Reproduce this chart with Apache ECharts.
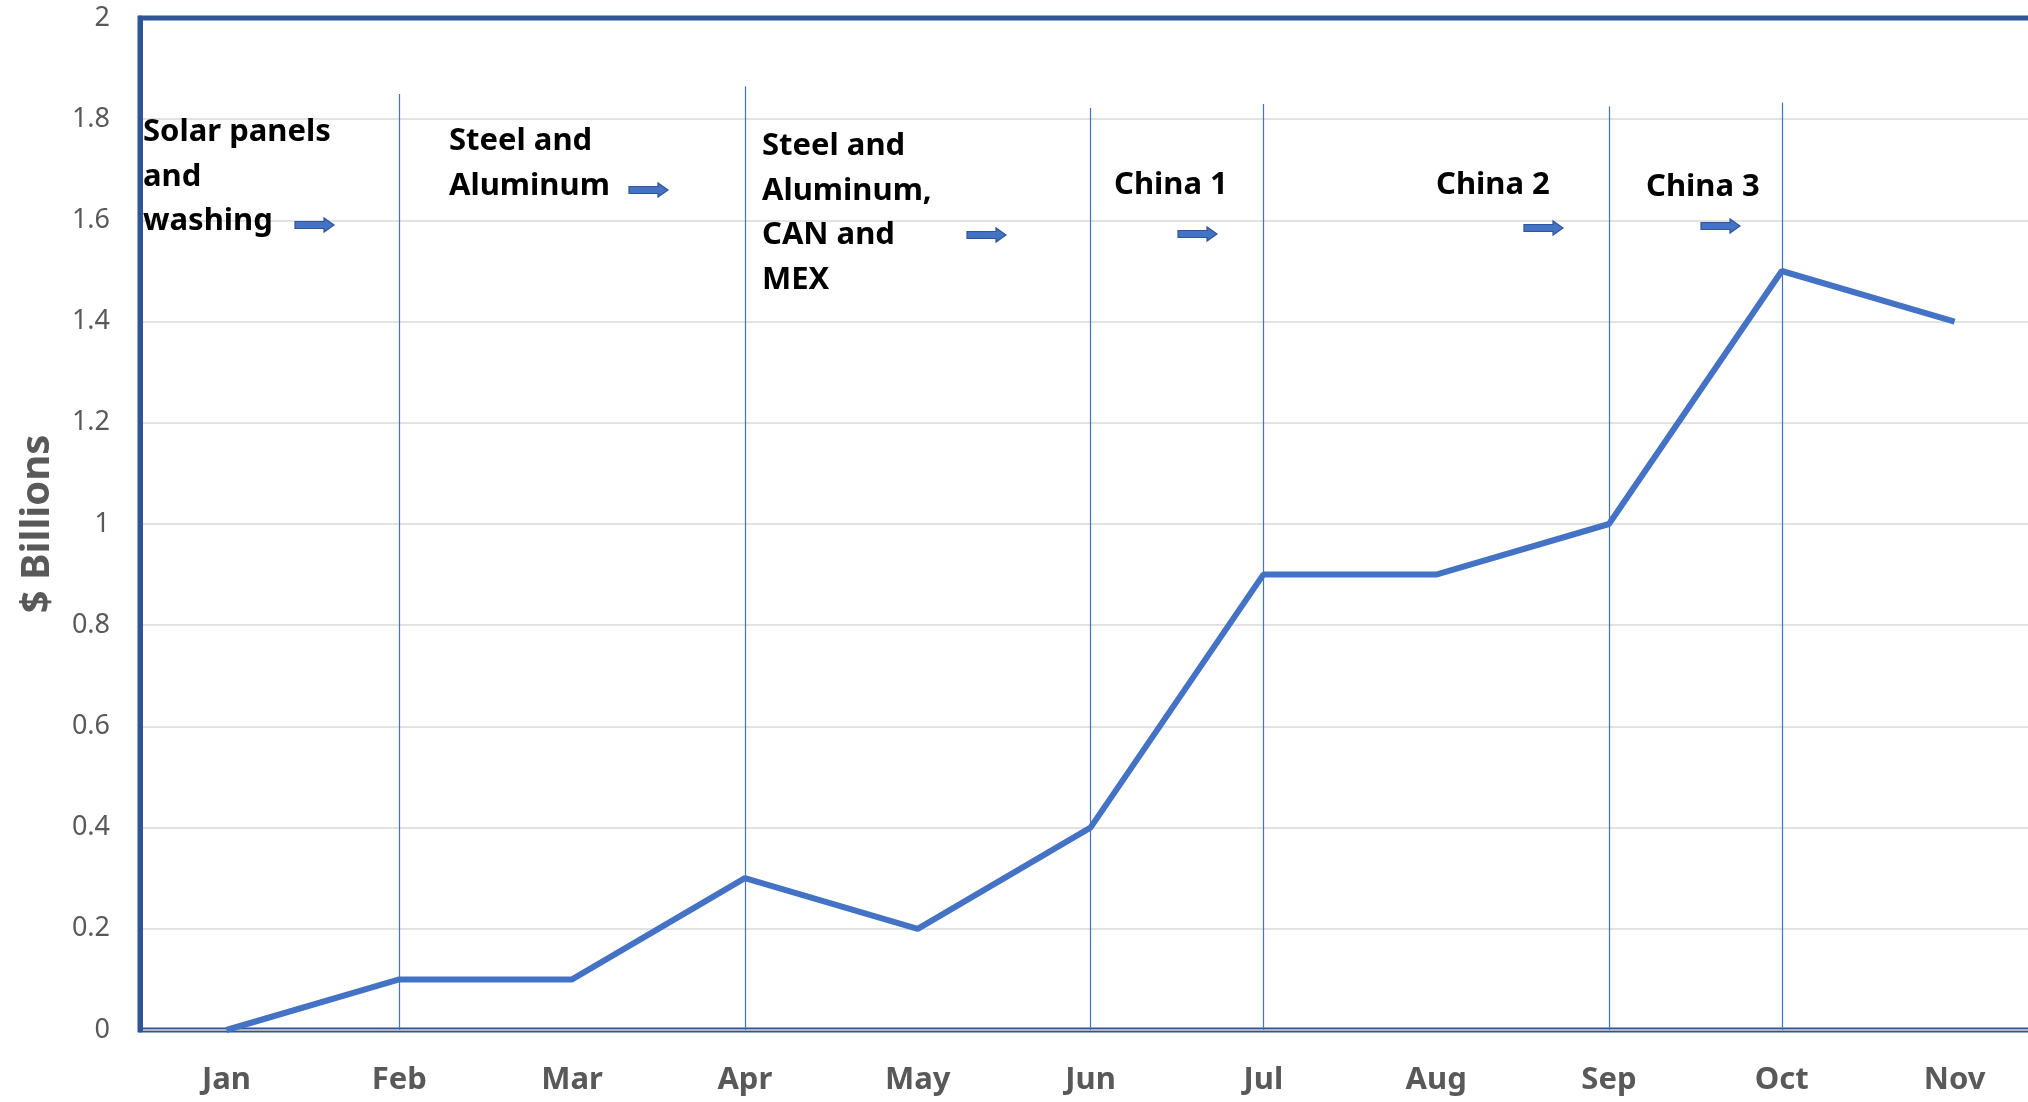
<!DOCTYPE html>
<html>
<head>
<meta charset="utf-8">
<script src="https://cdn.jsdelivr.net/npm/echarts@6/dist/echarts.min.js"></script>
<style>
html,body{margin:0;padding:0;background:#fff;}
#c{width:2028px;height:1102px;}
</style>
</head>
<body>
<div id="c"></div>
<script>
var months = ['Jan','Feb','Mar','Apr','May','Jun','Jul','Aug','Sep','Oct','Nov'];
var values = [0, 0.1, 0.1, 0.3, 0.2, 0.4, 0.9, 0.9, 1.0, 1.5, 1.4];
var yTicks = {min: 0, max: 2, interval: 0.2};
var markerMonths = ['Feb','Apr','Jun','Jul','Sep','Oct'];
var markerTops = [1.85, 1.865, 1.822, 1.83, 1.825, 1.833];
var annotations = [
  'Solar panels\nand\nwashing',
  'Steel and\nAluminum',
  'Steel and\nAluminum,\nCAN and\nMEX',
  'China 1',
  'China 2',
  'China 3'
];

var chart = echarts.init(document.getElementById('c'));

var FONT = '"Noto Sans"';
var textPos = [[143,110],[449,119],[762,124],[1114,163],[1436,163],[1646,165]];
var arrowPos = [[295,225],[629,190],[967,235],[1178,234],[1524,228],[1701,226]];

function arrow(x, y) {
  var L = 39, hl = 10, sh = 3.5, hh = 7;
  return {
    type: 'polygon',
    shape: {points: [[x, y - sh], [x + L - hl, y - sh], [x + L - hl, y - hh], [x + L, y], [x + L - hl, y + hh], [x + L - hl, y + sh], [x, y + sh]]},
    style: {fill: '#4472C4', stroke: '#2F5597', lineWidth: 1.2},
    z: 10
  };
}

var graphics = [];
annotations.forEach(function (t, i) {
  graphics.push({
    type: 'text', left: textPos[i][0], top: textPos[i][1], z: 10,
    style: {text: t, fill: '#000', font: 'bold 31px ' + FONT, lineHeight: 44.5}
  });
});
arrowPos.forEach(function (p) { graphics.push(arrow(p[0], p[1])); });

var markLines = markerMonths.map(function (m, i) {
  return [{coord: [m, markerTops[i]]}, {coord: [m, 0]}];
});

chart.setOption({
  animation: false,
  backgroundColor: '#fff',
  grid: {left: 140, top: 18, width: 1901, bottom: 72, show: true, borderColor: '#2F5597', borderWidth: 5, backgroundColor: 'transparent', containLabel: false, outerBoundsMode: 'none'},
  xAxis: {
    type: 'category', data: months, boundaryGap: true,
    axisLine: {show: false},
    axisTick: {show: false},
    axisLabel: {color: '#595959', fontFamily: FONT, fontWeight: 'bold', fontSize: 31, margin: 35}
  },
  yAxis: {
    type: 'value', min: yTicks.min, max: yTicks.max, interval: yTicks.interval,
    name: '$ Billions', nameLocation: 'middle', nameGap: 82, nameRotate: 90,
    nameTextStyle: {color: '#595959', fontFamily: FONT, fontWeight: 'bold', fontSize: 40},
    axisLine: {show: true, lineStyle: {color: '#2F5597', width: 5}},
    axisTick: {show: false},
    axisLabel: {color: '#595959', fontFamily: FONT, fontSize: 27, margin: 30},
    splitLine: {showMaxLine: false, lineStyle: {color: '#D9D9D9', width: 1.5}}
  },
  series: [{
    type: 'line', data: values, symbol: 'none',
    lineStyle: {color: '#4472C4', width: 6},
    markLine: {
      silent: true, symbol: 'none', label: {show: false},
      lineStyle: {color: '#4472C4', width: 1.2, type: 'solid'},
      data: markLines
    }
  }],
  graphic: graphics
});
</script>
</body>
</html>
